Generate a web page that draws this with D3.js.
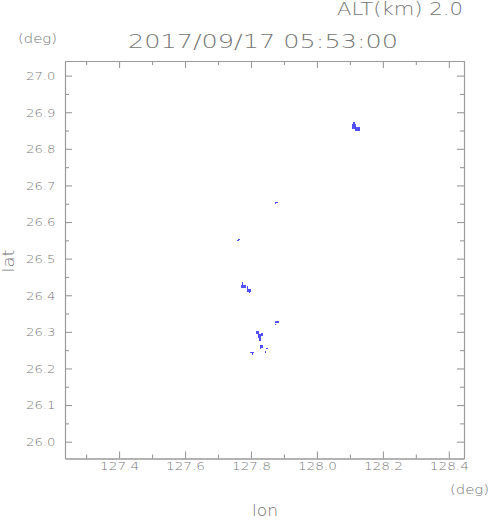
<!DOCTYPE html>
<html>
<head>
<meta charset="utf-8">
<script src="https://cdn.jsdelivr.net/npm/d3@7"></script>
<style>
  html, body { margin: 0; padding: 0; background: #fff; }
  svg { display: block; }
  text { font-family: "DejaVu Sans", sans-serif; font-weight: 200; fill: #767676; }
</style>
</head>
<body>
<svg id="chart" width="491" height="521"></svg>
<script>
// ---- data ----
const lonDomain = [127.236, 128.446];
const latDomain = [25.954, 27.040];
const lonMajorTicks = [127.4, 127.6, 127.8, 128.0, 128.2, 128.4];
const lonMinorTicks = [127.3, 127.5, 127.7, 127.9, 128.1, 128.3];
const latMajorTicks = [26.0, 26.1, 26.2, 26.3, 26.4, 26.5, 26.6, 26.7, 26.8, 26.9, 27.0];
const latMinorTicks = [26.05, 26.15, 26.25, 26.35, 26.45, 26.55, 26.65, 26.75, 26.85, 26.95];
const titleText = "2017/09/17 05:53:00";
const altText = "ALT(km) 2.0";
// echo cells: [lonMin, lonMax, latMin, latMax]
const echoCells = [
  [128.105, 128.117, 26.855, 26.868],
  [128.114, 128.130, 26.849, 26.860],
  [128.108, 128.114, 26.868, 26.874],
  [127.874, 127.883, 26.652, 26.655],
  [127.874, 127.877, 26.649, 26.652],
  [127.762, 127.768, 26.551, 26.554],
  [127.759, 127.765, 26.549, 26.551],
  [127.771, 127.786, 26.421, 26.429],
  [127.774, 127.777, 26.429, 26.437],
  [127.789, 127.801, 26.410, 26.418],
  [127.789, 127.792, 26.418, 26.424],
  [127.795, 127.798, 26.405, 26.410],
  [127.874, 127.886, 26.325, 26.331],
  [127.872, 127.875, 26.318, 26.321],
  [127.816, 127.823, 26.295, 26.301],
  [127.829, 127.835, 26.290, 26.298],
  [127.820, 127.829, 26.282, 26.293],
  [127.823, 127.829, 26.276, 26.282],
  [127.826, 127.835, 26.257, 26.263],
  [127.826, 127.829, 26.252, 26.257],
  [127.847, 127.853, 26.252, 26.255],
  [127.841, 127.847, 26.241, 26.249],
  [127.798, 127.810, 26.243, 26.246],
  [127.804, 127.807, 26.238, 26.243]
];

// ---- layout ----
const L = 65, R = 464, T = 61, B = 458.5;
const svg = d3.select("#chart");
const x = d3.scaleLinear().domain(lonDomain).range([L, R]);
const y = d3.scaleLinear().domain(latDomain).range([B, T]);
const axisColor = "#9a9a9a";

// echoes
svg.append("g").selectAll("rect").data(echoCells).join("rect")
  .attr("x", d => x(d[0]))
  .attr("width", d => x(d[1]) - x(d[0]))
  .attr("y", d => y(d[3]))
  .attr("height", d => y(d[2]) - y(d[3]))
  .attr("fill", "#5050ff")
  .attr("shape-rendering", "crispEdges");

function styleAxis(g) {
  g.selectAll("path, line").attr("stroke", axisColor).attr("stroke-width", 1.1);
  g.selectAll("text").attr("fill", "#767676")
    .attr("font-family", "DejaVu Sans, sans-serif")
    .attr("font-weight", 200)
    .attr("font-size", 10.5);
}

// bottom
const gb = svg.append("g").attr("transform", `translate(0,${B})`)
  .call(d3.axisBottom(x).tickValues(lonMajorTicks).tickSize(-7).tickSizeOuter(0).tickPadding(4.5)
        .tickFormat(d3.format(".1f")));
gb.call(styleAxis);
gb.selectAll("text").attr("textLength", 39).attr("lengthAdjust", "spacingAndGlyphs");
svg.append("g").attr("transform", `translate(0,${B})`)
  .call(d3.axisBottom(x).tickValues(lonMinorTicks).tickSize(-4).tickSizeOuter(0).tickFormat(""))
  .call(styleAxis);

// top
svg.append("g").attr("transform", `translate(0,${T})`)
  .call(d3.axisTop(x).tickValues(lonMajorTicks).tickSize(-7).tickSizeOuter(0).tickFormat(""))
  .call(styleAxis);
svg.append("g").attr("transform", `translate(0,${T})`)
  .call(d3.axisTop(x).tickValues(lonMinorTicks).tickSize(-4).tickSizeOuter(0).tickFormat(""))
  .call(styleAxis);

// left
const gl = svg.append("g").attr("transform", `translate(${L},0)`)
  .call(d3.axisLeft(y).tickValues(latMajorTicks).tickSize(-7).tickSizeOuter(0).tickPadding(9.5)
        .tickFormat(d3.format(".1f")));
gl.call(styleAxis);
gl.selectAll("text").attr("textLength", 29.5).attr("lengthAdjust", "spacingAndGlyphs").attr("dy", "0.36em");
svg.append("g").attr("transform", `translate(${L},0)`)
  .call(d3.axisLeft(y).tickValues(latMinorTicks).tickSize(-4).tickSizeOuter(0).tickFormat(""))
  .call(styleAxis);

// right
svg.append("g").attr("transform", `translate(${R},0)`)
  .call(d3.axisRight(y).tickValues(latMajorTicks).tickSize(-7).tickSizeOuter(0).tickFormat(""))
  .call(styleAxis);
svg.append("g").attr("transform", `translate(${R},0)`)
  .call(d3.axisRight(y).tickValues(latMinorTicks).tickSize(-4).tickSizeOuter(0).tickFormat(""))
  .call(styleAxis);

// texts
function label(str, tx, ty, size, len, anchor, rotate) {
  const t = svg.append("text")
    .attr("font-size", size)
    .attr("text-anchor", anchor)
    .attr("textLength", len)
    .attr("lengthAdjust", "spacingAndGlyphs")
    .text(str);
  if (rotate) t.attr("transform", `translate(${tx},${ty}) rotate(${rotate})`);
  else t.attr("x", tx).attr("y", ty);
  return t;
}
label(altText, 463, 14.5, 17.4, 126, "end");
label(titleText, 263, 47.7, 19.7, 270, "middle");
label("(deg)", 18, 43, 11.5, 39, "start");
label("(deg)", 489, 494, 11.5, 39, "end");
label("lon", 265, 516, 15.5, 26, "middle");
label("lat", 14, 261, 16, 23, "middle", -90);
</script>
</body>
</html>
